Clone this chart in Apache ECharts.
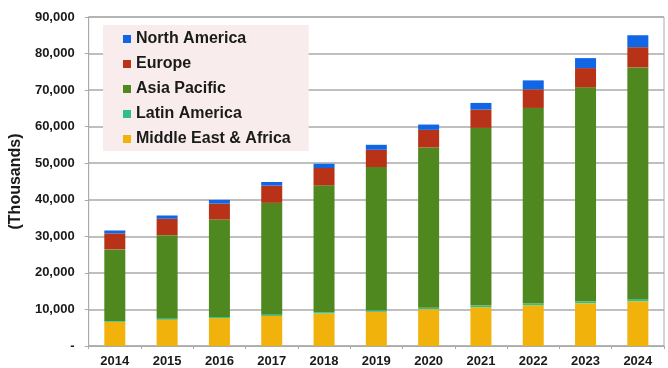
<!DOCTYPE html>
<html>
<head>
<meta charset="utf-8">
<script src="https://cdn.jsdelivr.net/npm/echarts@6/dist/echarts.min.js"></script>
<style>html,body{margin:0;padding:0;background:#fff}#c{width:668px;height:368px}</style>
</head>
<body>
<div id="c"></div>
<script>
const years = ['2014','2015','2016','2017','2018','2019','2020','2021','2022','2023','2024'];
const middleEastAfrica = [6620, 7170, 7630, 8220, 8900, 9350, 10080, 10630, 11170, 11720, 12260];
const latinAmerica = [250, 270, 290, 310, 330, 360, 390, 420, 450, 500, 550];
const asiaPacific = [19560, 22890, 26680, 30620, 34720, 39250, 43840, 48620, 53500, 58530, 63400];
const europe = [4360, 4470, 4360, 4720, 4740, 4720, 4820, 5000, 5090, 5270, 5530];
const northAmerica = [810, 900, 1010, 1000, 1170, 1360, 1450, 1820, 2450, 2730, 3270];
const legendOrder = ['North America', 'Europe', 'Asia Pacific', 'Latin America', 'Middle East & Africa'];

const font = 'Liberation Sans, Arial, sans-serif';
const chart = echarts.init(document.getElementById('c'), null, {renderer: 'canvas'});
function s(name, data, color) {
  return {name, type: 'bar', stack: 't', data, barWidth: 21, itemStyle: {color}};
}
chart.setOption({
  animation: false,
  grid: {left: 88, right: 4, top: 17, bottom: 21, show: true, borderColor: '#aaaaaa', borderWidth: 1},
  legend: {
    data: legendOrder, orient: 'vertical', left: 103, top: 25,
    backgroundColor: '#f8ecec', padding: [6, 18, 4, 20],
    itemWidth: 8, itemHeight: 8, itemGap: 9, icon: 'rect',
    textStyle: {fontFamily: font, fontWeight: 'bold', fontSize: 16, lineHeight: 16, color: '#1a1a1a'}
  },
  xAxis: {
    type: 'category', data: years,
    axisLine: {lineStyle: {color: '#aaaaaa'}},
    axisTick: {show: true, length: 3, lineStyle: {color: '#aaaaaa'}},
    axisLabel: {fontFamily: font, fontWeight: 'bold', fontSize: 13, color: '#1a1a1a', margin: 9}
  },
  yAxis: {
    type: 'value', min: 0, max: 90000, interval: 10000,
    name: '(Thousands)', nameLocation: 'middle', nameGap: 61, nameRotate: 90,
    nameTextStyle: {fontFamily: font, fontWeight: 'bold', fontSize: 16, color: '#1a1a1a'},
    axisLine: {show: true, lineStyle: {color: '#aaaaaa'}},
    axisTick: {show: true, length: 4, lineStyle: {color: '#aaaaaa'}},
    splitLine: {lineStyle: {color: '#aaaaaa', width: 1.5}},
    axisLabel: {
      fontFamily: font, fontWeight: 'bold', fontSize: 13, color: '#1a1a1a', margin: 14,
      formatter: v => v === 0 ? '-' : v.toLocaleString('en-US')
    }
  },
  series: [
    s('Middle East & Africa', middleEastAfrica, '#f2b20c'),
    s('Latin America', latinAmerica, '#2fbf8a'),
    s('Asia Pacific', asiaPacific, '#4e881e'),
    s('Europe', europe, '#b73216'),
    s('North America', northAmerica, '#1166e6')
  ]
});
</script>
</body>
</html>
